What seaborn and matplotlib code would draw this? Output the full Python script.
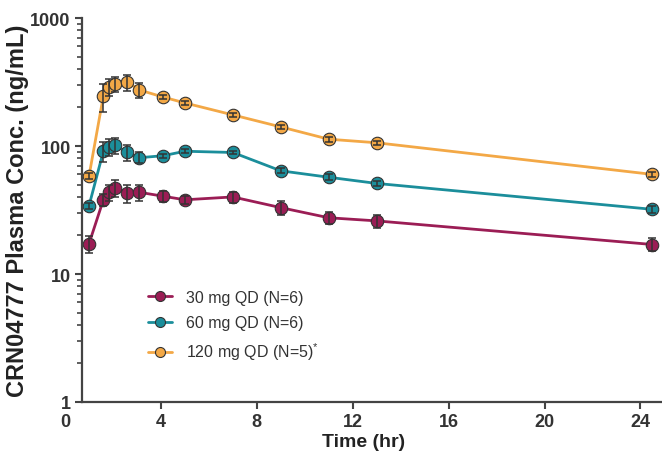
import numpy as np
import pandas as pd
import matplotlib
matplotlib.use("Agg")
import matplotlib.pyplot as plt
import seaborn as sns

# ----------------------------------------------------
# Data
# ----------------------------------------------------

time_hr = [1.0, 1.6, 1.85, 2.1, 2.6, 3.1, 4.1, 5.0, 7.0, 9.0, 11.0, 13.0, 24.5]

conc_30 = [17.2, 38, 43.5, 47, 43, 43.5, 40.5, 38, 40, 33, 27.5, 26, 17]
conc_60 = [34, 91, 98, 101, 89, 81, 84, 91, 89, 64, 57, 51, 32]
conc_120 = [58, 246, 289, 305, 316, 274, 241, 217, 175, 141, 113, 106, 60]

sd_30 = [2.6, 4, 6, 7, 7, 6, 4, 3, 4, 4, 3, 3, 2]
sd_60 = [2, 16, 15, 15, 12, 8, 3, 3, 3, 3, 3, 2, 2]
sd_120 = [3, 60, 45, 40, 45, 35, 10, 8, 6, 5, 5, 4, 3]

groups = ["30 mg QD (N=6)", "60 mg QD (N=6)", "120 mg QD (N=5)$^{*}$"]
colors = ["#9b1d55", "#1b8e9b", "#f3a846"]

x_ticks = [0, 4, 8, 12, 16, 20, 24]
y_ticks = [1, 10, 100, 1000]

# ----------------------------------------------------
# Long table for seaborn
# ----------------------------------------------------

frames = []
for g, c, s in zip(groups, [conc_30, conc_60, conc_120], [sd_30, sd_60, sd_120]):
    frames.append(pd.DataFrame({"time": time_hr, "conc": c, "sd": s, "group": g}))
df = pd.concat(frames, ignore_index=True)

# ----------------------------------------------------
# Plot
# ----------------------------------------------------

sns.set_style("ticks")
plt.rcParams["font.family"] = ["Liberation Sans", "DejaVu Sans"]
plt.rcParams["mathtext.fontset"] = "custom"
plt.rcParams["mathtext.rm"] = "Liberation Sans"
plt.rcParams["mathtext.it"] = "Liberation Sans"

fig, ax = plt.subplots(figsize=(6.62, 4.64), dpi=100)
fig.subplots_adjust(left=65 / 662, right=1.0, bottom=1 - 403 / 464, top=1 - 19 / 464)

sns.lineplot(
    data=df, x="time", y="conc", hue="group",
    hue_order=groups, palette=colors,
    marker="o", markersize=9, markeredgecolor="#333333", markeredgewidth=0.8,
    linewidth=2, errorbar=None, ax=ax
)

for g in groups:
    sub = df[df["group"] == g]
    ax.errorbar(
        sub["time"], sub["conc"], yerr=sub["sd"],
        fmt="none", ecolor="#333333", elinewidth=1.1,
        capsize=2.8, capthick=1.1, zorder=5
    )

ax.set_yscale("log")
ax.set_ylim(1, 1000)
ax.set_xlim(0, 24.9)

# spines first: moving a spine resets the tick objects
sns.despine(ax=ax)
ax.spines["left"].set_position(("data", 0.7))
ax.spines["bottom"].set_bounds(0.7, 24.9)
for side in ["left", "bottom"]:
    ax.spines[side].set_linewidth(1.6)
    ax.spines[side].set_color("#444444")

ax.set_yticks(y_ticks)
ax.set_yticklabels([str(v) for v in y_ticks], fontsize=13, fontweight="bold", color="#333333")
ax.set_xticks(x_ticks)
ax.set_xticklabels([str(v) for v in x_ticks], fontsize=13, fontweight="bold", color="#333333")

ax.tick_params(axis="both", which="major", length=5, width=1.5, color="#444444", pad=3)
ax.tick_params(axis="y", which="minor", length=3.5, width=1.2, color="#444444")
ax.xaxis.get_major_ticks()[0].tick1line.set_visible(False)

ax.set_xlabel("Time (hr)", fontsize=14, fontweight="bold", color="#222222", labelpad=2)
ax.set_ylabel("CRN04777 Plasma Conc. (ng/mL)", fontsize=17, fontweight="bold", color="#222222")
ax.yaxis.label.set_va("center")
ax.yaxis.set_label_coords(-47 / 597, 0.5)

leg = ax.legend(
    loc="center left", bbox_to_anchor=(140 / 662, 1 - 327 / 464),
    bbox_transform=fig.transFigure, frameon=False,
    fontsize=11.5, handlelength=1.5, handletextpad=0.9, labelspacing=0.65,
    borderpad=0, markerscale=0.8
)
for t in leg.get_texts():
    t.set_color("#333333")

plt.savefig("out.png", dpi=100)
